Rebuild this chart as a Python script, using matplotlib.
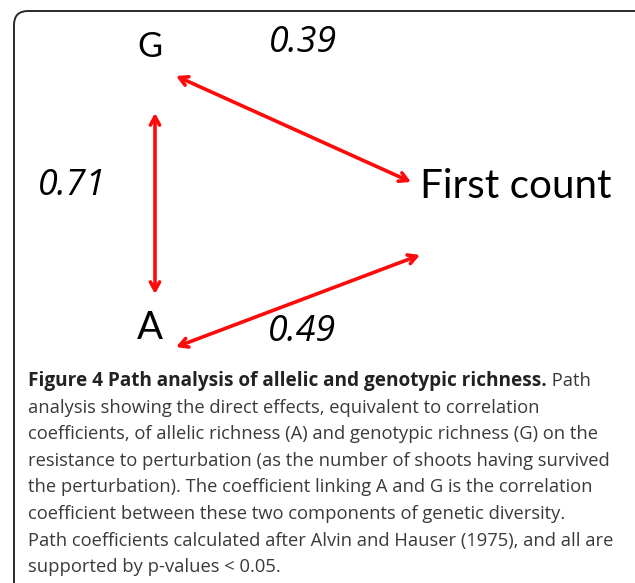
import matplotlib
matplotlib.use("Agg")
import matplotlib.pyplot as plt
from matplotlib.patches import FancyBboxPatch

# ---- data ----
nodes = ["G", "A", "First count"]
edges = [("G", "First count"), ("A", "G"), ("A", "First count")]
coefficients = [0.39, 0.71, 0.49]

caption_bold = "Figure 4 Path analysis of allelic and genotypic richness."
caption_lines = [
    " Path",
    "analysis showing the direct effects, equivalent to correlation",
    "coefficients, of allelic richness (A) and genotypic richness (G) on the",
    "resistance to perturbation (as the number of shoots having survived",
    "the perturbation). The coefficient linking A and G is the correlation",
    "coefficient between these two components of genetic diversity.",
    "Path coefficients calculated after Alvin and Hauser (1975), and all are",
    "supported by p-values < 0.05.",
]

# ---- layout (pixel coordinates) ----
W, H = 635, 583
node_pos = {"G": (150, 47), "A": (150, 328), "First count": (516, 187)}
arrow_ends = [((176, 76), (411, 182)),
              ((155, 113), (155, 294)),
              ((176, 347), (420, 255))]
coef_pos = [(303, 43), (72, 186), (302, 332)]

fig = plt.figure(figsize=(W / 100, H / 100), dpi=100)
ax = fig.add_axes([0, 0, 1, 1])
ax.set_xlim(0, W)
ax.set_ylim(H, 0)
ax.axis("off")

box = FancyBboxPatch((14, 11), 700, 700,
                     boxstyle="round,pad=0,rounding_size=14",
                     fill=False, ec="#2a2a2a", lw=1.4, clip_on=True)
ax.add_patch(box)

renderer = fig.canvas.get_renderer()

def fit_text(x, y, s, target_w, **kw):
    t = ax.text(x, y, s, fontsize=20, **kw)
    w = t.get_window_extent(renderer).width
    t.set_fontsize(20 * target_w / w)
    return t

label_font = "Lato"
fit_text(*node_pos["G"], "G", 25, family=label_font, ha="center", va="center", color="black")
fit_text(*node_pos["A"], "A", 26, family=label_font, ha="center", va="center", color="black")
fit_text(*node_pos["First count"], "First count", 192, family=label_font, ha="center",
         va="center", color="black")

for (p0, p1), c, cp in zip(arrow_ends, coefficients, coef_pos):
    ax.annotate("", xy=p1, xytext=p0,
                arrowprops=dict(arrowstyle="<->,head_length=0.6,head_width=0.33",
                                color="#ff0a0a", lw=2.6, shrinkA=0, shrinkB=0))
    fit_text(cp[0], cp[1], f"{c:.2f}", 68, family="Open Sans", style="italic",
             ha="center", va="center", color="black")

# caption
x0, y0, dy = 28, 381, 26.6
cap_size = 13.2
tb = fit_text(x0, y0, caption_bold, 520, family="Open Sans", weight="bold",
              color="#222222", va="center", ha="left")
bw = tb.get_window_extent(renderer)
x_end = ax.transData.inverted().transform((bw.x1, 0))[0]
for i, line in enumerate(caption_lines):
    if i == 0:
        ax.text(x_end, y0, line, family="Open Sans", fontsize=cap_size,
                color="#3a3a3a", va="center", ha="left")
    else:
        ax.text(x0, y0 + i * dy, line, family="Open Sans", fontsize=cap_size,
                color="#3a3a3a", va="center", ha="left")

fig.savefig("out.png", dpi=100)
